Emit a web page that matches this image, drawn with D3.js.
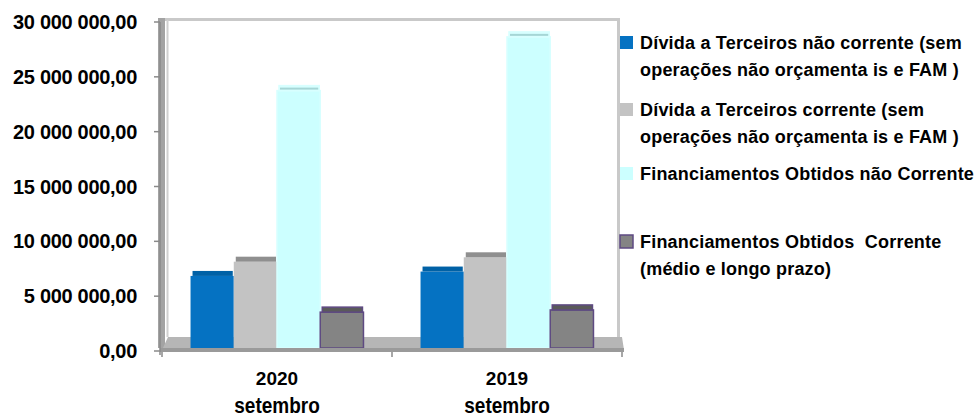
<!DOCTYPE html>
<html>
<head>
<meta charset="utf-8">
<script src="https://cdn.jsdelivr.net/npm/d3@7"></script>
<style>
  html, body { margin: 0; padding: 0; background: #ffffff; }
  svg { display: block; }
  text { font-family: "Liberation Sans", Arial, sans-serif; font-weight: bold; fill: #000; }
</style>
</head>
<body>
<svg id="chart" width="978" height="416"></svg>
<script>
// Periods shown on the horizontal axis (year + month)
const periods = ["2020", "2019"];
const periodMonth = ["setembro", "setembro"];

// Series names (legend, each may span two lines)
const seriesNames = [
  ["Dívida a Terceiros não corrente (sem", "operações não orçamenta is e FAM )"],
  ["Dívida a Terceiros corrente (sem", "operações não orçamenta is e FAM )"],
  ["Financiamentos Obtidos não Corrente"],
  ["Financiamentos Obtidos  Corrente", "(médio e longo prazo)"]
];

// Values in euros, one array per series, ordered as the periods
const dividaNaoCorrente   = [7300000, 7700000];
const dividaCorrente      = [8600000, 9000000];
const financNaoCorrente   = [24200000, 29100000];
const financCorrente      = [4000000, 4200000];

// Value axis ticks
const yTicks = [0, 5000000, 10000000, 15000000, 20000000, 25000000, 30000000];

const seriesValues = [dividaNaoCorrente, dividaCorrente, financNaoCorrente, financCorrente];
const seriesStyle = [
  { face: "#0572c2", top: "#0061a6", stroke: "none", topLine: null },
  { face: "#c3c3c3", top: "#8f8f8f", stroke: "none", topLine: null },
  { face: "#ccffff", top: "#d6ffff", stroke: "#d8ffff", topLine: "#a6d6d6" },
  { face: "#848484", top: "#5a5a5a", stroke: "#5e4a82", topLine: null }
];

const svg = d3.select("#chart");

const plot = { left: 162, right: 622, top: 20, floorBack: 337, floorFront: 350 };

const y = d3.scaleLinear().domain([0, 30000000]).range([351, 22]);
const x0 = d3.scaleBand().domain(periods).range([plot.left, plot.right]).padding(0);
const x1 = d3.scaleBand().domain(d3.range(seriesValues.length))
  .range([0, x0.bandwidth()]).paddingInner(0).paddingOuter(0.66);

const ptLocale = d3.formatLocale({ decimal: ",", thousands: " ", grouping: [3], currency: ["", ""] });
const fmt = ptLocale.format(",.2f");

// Back wall frame
svg.append("path")
  .attr("d", `M${plot.left + 3},${plot.top - 0.5} H${plot.right - 3.5} V${plot.floorBack}`)
  .attr("fill", "none").attr("stroke", "#c9c9c9").attr("stroke-width", 3);
svg.append("line")
  .attr("x1", plot.left + 5.5).attr("x2", plot.left + 5.5)
  .attr("y1", plot.top).attr("y2", plot.floorBack)
  .attr("stroke", "#d0d0d0").attr("stroke-width", 2);

// Left side wall
svg.append("rect")
  .attr("x", plot.left - 4).attr("y", plot.top - 2)
  .attr("width", 7).attr("height", plot.floorFront - plot.top)
  .attr("fill", "#a3a3a3");

// Floor
svg.append("path")
  .attr("d", `M${plot.left},${plot.floorFront} L${plot.left + 6},${plot.floorBack} H${plot.right} L${plot.right + 2},${plot.floorFront} Z`)
  .attr("fill", "#b6b6b6");

// Bars (front face with a short top face for depth)
const depth = 5;
const groups = svg.append("g").selectAll("g")
  .data(periods).join("g")
  .attr("transform", d => `translate(${x0(d)},0)`);

groups.each(function (p, pi) {
  const g = d3.select(this);
  seriesValues.forEach((vals, si) => {
    const st = seriesStyle[si];
    const bx = x1(si), bw = x1.bandwidth();
    const yt = y(vals[pi]);
    const yb = y(0) - 3;
    g.append("rect")
      .attr("x", bx).attr("y", yt + depth)
      .attr("width", bw).attr("height", yb - yt - depth)
      .attr("fill", st.face)
      .attr("stroke", st.stroke).attr("stroke-width", st.stroke === "none" ? 0 : 1.5);
    g.append("rect")
      .attr("x", bx + 2).attr("y", yt)
      .attr("width", bw - 3).attr("height", depth)
      .attr("fill", st.top)
      .attr("stroke", st.stroke === "none" ? "none" : st.stroke)
      .attr("stroke-width", st.stroke === "none" ? 0 : 1.5);
    if (st.topLine) {
      g.append("rect")
        .attr("x", bx + 3).attr("y", yt + 2)
        .attr("width", bw - 5).attr("height", 2)
        .attr("fill", st.topLine);
    }
  });
});

// Floor front edge
svg.append("rect")
  .attr("x", plot.left - 2).attr("y", plot.floorFront - 2)
  .attr("width", plot.right - plot.left + 4).attr("height", 4)
  .attr("fill", "#9a9a9a");

// Value axis
const yAxisG = svg.append("g");
yAxisG.append("line")
  .attr("x1", plot.left - 2).attr("x2", plot.left - 2)
  .attr("y1", y(30000000)).attr("y2", y(0) + 4)
  .attr("stroke", "#8a8a8a").attr("stroke-width", 1.5);
yAxisG.selectAll("line.tick").data(yTicks).join("line")
  .attr("class", "tick")
  .attr("x1", plot.left - 8).attr("x2", plot.left - 2)
  .attr("y1", d => y(d)).attr("y2", d => y(d))
  .attr("stroke", "#8a8a8a").attr("stroke-width", 1.5);
yAxisG.selectAll("text").data(yTicks).join("text")
  .attr("x", 137).attr("y", d => y(d) + 7)
  .attr("text-anchor", "end")
  .style("font-size", "20px").style("letter-spacing", "-0.3px")
  .text(d => fmt(d));

// Category axis ticks
const catEdges = [plot.left, plot.left + x0.bandwidth(), plot.right];
svg.selectAll("line.xtick").data(catEdges).join("line")
  .attr("class", "xtick")
  .attr("x1", d => d).attr("x2", d => d)
  .attr("y1", plot.floorFront + 2).attr("y2", plot.floorFront + 7)
  .attr("stroke", "#8a8a8a").attr("stroke-width", 1.5);

// Category labels
periods.forEach((p, i) => {
  const cx = x0(p) + x0.bandwidth() / 2;
  svg.append("text")
    .attr("x", cx).attr("y", 385)
    .attr("text-anchor", "middle")
    .style("font-size", "19px")
    .text(p);
  svg.append("text")
    .attr("transform", `translate(${cx},413) scale(1,1.15)`)
    .attr("text-anchor", "middle")
    .style("font-size", "19px")
    .text(periodMonth[i]);
});

// Legend
const legendRows = [36, 103, 167, 235];
const legend = svg.append("g");
seriesNames.forEach((lines, i) => {
  const st = seriesStyle[i];
  legend.append("rect")
    .attr("x", 620).attr("y", legendRows[i])
    .attr("width", 13).attr("height", 13)
    .attr("fill", st.face)
    .attr("stroke", i === 3 ? st.stroke : "none")
    .attr("stroke-width", i === 3 ? 1.5 : 0);
  lines.forEach((t, li) => {
    legend.append("text")
      .attr("x", 640).attr("y", legendRows[i] + 13 + li * 27)
      .style("font-size", "18px").style("letter-spacing", "0.2px")
      .style("white-space", "pre")
      .text(t);
  });
});
</script>
</body>
</html>
